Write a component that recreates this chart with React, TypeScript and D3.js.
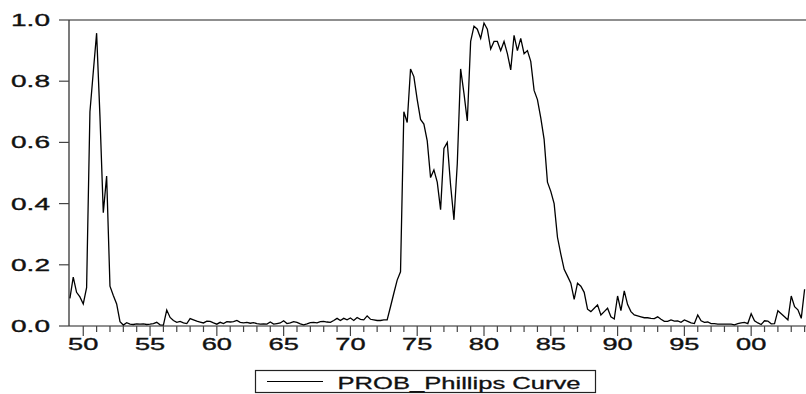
import React, { useEffect, useRef } from 'react';
import * as d3 from 'd3';

// quarterly observations, 1949Q1 .. 2004Q1
const startYear = 1949;
const prob = [
  0.09, 0.16, 0.11, 0.095, 0.072, 0.125, 0.70, 0.83, 0.957, 0.685,
  0.37, 0.49, 0.13, 0.10, 0.072, 0.014, 0.003, 0.011, 0.006, 0.005,
  0.007, 0.006, 0.007, 0.005, 0.006, 0.008, 0.012, 0.004, 0.003, 0.052,
  0.028, 0.018, 0.012, 0.015, 0.010, 0.008, 0.024, 0.020, 0.016, 0.013,
  0.010, 0.016, 0.015, 0.010, 0.006, 0.012, 0.008, 0.014, 0.013, 0.014,
  0.018, 0.012, 0.010, 0.012, 0.009, 0.011, 0.008, 0.006, 0.007, 0.006,
  0.013, 0.006, 0.008, 0.010, 0.017, 0.008, 0.010, 0.014, 0.012, 0.007,
  0.004, 0.007, 0.011, 0.012, 0.010, 0.014, 0.015, 0.013, 0.012, 0.018,
  0.025, 0.018, 0.025, 0.020, 0.026, 0.018, 0.028, 0.022, 0.020, 0.033,
  0.022, 0.020, 0.018, 0.018, 0.020, 0.020, 0.063, 0.107, 0.150, 0.177,
  0.70, 0.665, 0.84, 0.815, 0.74, 0.675, 0.66, 0.605, 0.485, 0.51,
  0.47, 0.38, 0.58, 0.60, 0.46, 0.347, 0.53, 0.84, 0.76, 0.67,
  0.93, 0.98, 0.97, 0.94, 0.99, 0.97, 0.905, 0.93, 0.93, 0.90,
  0.93, 0.89, 0.837, 0.95, 0.90, 0.94, 0.89, 0.90, 0.865, 0.77,
  0.74, 0.68, 0.61, 0.47, 0.44, 0.40, 0.29, 0.235, 0.185, 0.163,
  0.14, 0.087, 0.14, 0.13, 0.11, 0.055, 0.047, 0.058, 0.069, 0.036,
  0.047, 0.058, 0.030, 0.023, 0.098, 0.050, 0.115, 0.070, 0.047, 0.036,
  0.033, 0.030, 0.027, 0.027, 0.025, 0.024, 0.030, 0.022, 0.015, 0.015,
  0.020, 0.016, 0.017, 0.012, 0.020, 0.015, 0.010, 0.008, 0.036, 0.017,
  0.012, 0.013, 0.008, 0.008, 0.006, 0.006, 0.006, 0.006, 0.006, 0.004,
  0.008, 0.010, 0.012, 0.008, 0.040, 0.017, 0.010, 0.005, 0.017, 0.016,
  0.007, 0.008, 0.050, 0.040, 0.030, 0.020, 0.098, 0.063, 0.053, 0.025,
  0.12,
];
const yTicks = [0, 0.2, 0.4, 0.6, 0.8, 1.0];
const labelYears = [1950, 1955, 1960, 1965, 1970, 1975, 1980, 1985, 1990, 1995, 2000];
const seriesName = 'PROB_Phillips Curve';

const FONT = '"Liberation Sans", Arial, sans-serif';

const App = () => {
  const ref = useRef<SVGSVGElement>(null);

  useEffect(() => {
    const width = 806;
    const height = 394;
    const left = 69;

    const svg = d3.select(ref.current).attr('width', width).attr('height', height);
    svg.selectAll('*').remove();

    const x = d3.scaleLinear().domain([1949, 2004]).range([69.9, 804.6]);
    const y = d3.scaleLinear().domain([0, 1]).range([326, 20]);

    // frame: top border and axes
    svg.append('line')
      .attr('x1', left).attr('x2', width).attr('y1', y(1)).attr('y2', y(1))
      .attr('stroke', '#6a6a6a').attr('stroke-width', 1.3);
    svg.append('line')
      .attr('x1', left).attr('x2', width).attr('y1', y(0)).attr('y2', y(0))
      .attr('stroke', '#6a6a6a').attr('stroke-width', 1.3);
    svg.append('line')
      .attr('x1', left).attr('x2', left).attr('y1', y(1)).attr('y2', y(0))
      .attr('stroke', '#333').attr('stroke-width', 1.3);

    // y ticks and labels (labels are wide, so stretch them)
    const yt = svg.append('g').selectAll('g').data(yTicks).enter().append('g');
    yt.append('line')
      .attr('x1', left - 10).attr('x2', left)
      .attr('y1', d => y(d)).attr('y2', d => y(d))
      .attr('stroke', '#444').attr('stroke-width', 1.2);
    yt.append('text')
      .attr('transform', d => `translate(50,${y(d) + 6}) scale(1.7,1)`)
      .attr('text-anchor', 'end')
      .style('font-family', FONT)
      .style('font-size', '16.5px')
      .style('fill', '#111')
      .style('stroke', '#111')
      .style('stroke-width', 0.35)
      .text(d => d3.format('.1f')(d));

    // x ticks: one per year, longer every 5 years
    const years = d3.range(1950, 2005);
    svg.append('g').selectAll('line').data(years).enter().append('line')
      .attr('x1', d => x(d)).attr('x2', d => x(d))
      .attr('y1', y(0)).attr('y2', d => y(0) + (d % 5 === 0 ? 10 : 6))
      .attr('stroke', '#444').attr('stroke-width', 1.2);
    svg.append('g').selectAll('text').data(labelYears).enter().append('text')
      .attr('transform', d => `translate(${x(d)},350) scale(1.65,1)`)
      .attr('text-anchor', 'middle')
      .style('font-family', FONT)
      .style('font-size', '16.5px')
      .style('fill', '#111')
      .style('stroke', '#111')
      .style('stroke-width', 0.35)
      .text(d => String(d % 100).padStart(2, '0'));

    // the series
    const line = d3.line<number>()
      .x((d, i) => x(startYear + i / 4))
      .y(d => y(d));
    svg.append('path')
      .datum(prob)
      .attr('d', line)
      .attr('fill', 'none')
      .attr('stroke', '#000')
      .attr('stroke-width', 1.3)
      .attr('stroke-linejoin', 'miter');

    // legend
    const lg = svg.append('g');
    lg.append('rect')
      .attr('x', 255.5).attr('y', 370.5).attr('width', 340).attr('height', 22)
      .attr('fill', 'none').attr('stroke', '#222').attr('stroke-width', 1.2);
    lg.append('line')
      .attr('x1', 267).attr('x2', 323).attr('y1', 381.5).attr('y2', 381.5)
      .attr('stroke', '#000').attr('stroke-width', 1.1);
    lg.append('text')
      .attr('transform', 'translate(337.5,388.5) scale(1.55,1)')
      .style('font-family', FONT)
      .style('font-size', '16.5px')
      .style('fill', '#111')
      .style('stroke', '#111')
      .style('stroke-width', 0.3)
      .text(seriesName);
  }, []);

  return <svg ref={ref} style={{ position: 'absolute', left: 0, top: 0, background: '#fff' }} />;
};

export default App;
